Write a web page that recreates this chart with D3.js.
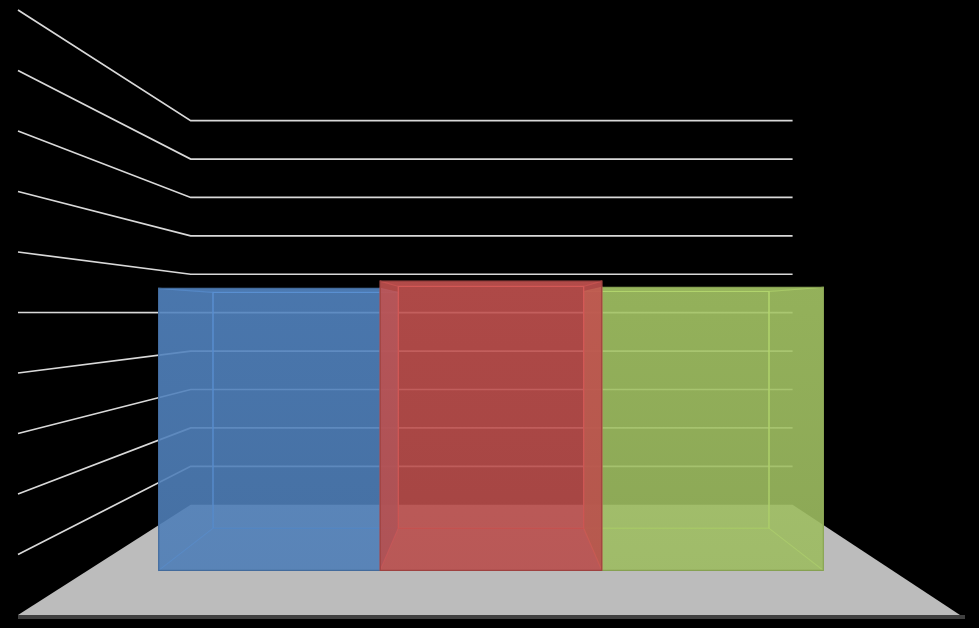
<!DOCTYPE html>
<html>
<head>
<meta charset="utf-8">
<script src="https://cdn.jsdelivr.net/npm/d3@7"></script>
<style>
  body { margin: 0; background: #000; }
  svg { display: block; }
</style>
</head>
<body>
<div id="content"></div>
<script>
// data
var categories = ["A", "B", "C"];
var values = [5.47, 5.61, 5.49];
var barColors = ["#5080bb", "#bd4f4d", "#a0c062"];
var gridValues = [1, 2, 3, 4, 5, 6, 7, 8, 9, 10];

var width = 979, height = 628;

// perspective: vanishing point and depth factor
var cx = 491, vy = 313, k = 0.575;
var barFront = 0.302, barBack = 0.70;
var floorLeft = 18, floorRight = 962;

function P(X, Y, d) {
  var s = 1 / (1 + k * d);
  return [cx + (X - cx) * s, vy + (Y - vy) * s];
}

var xScale = d3.scaleBand()
  .domain(categories)
  .range([101, 881])
  .padding(0);

var yScale = d3.scaleLinear()
  .domain([0, 10])
  .range([615, 10]);

var svg = d3.select("#content").append("svg")
  .attr("width", width)
  .attr("height", height);

svg.append("rect").attr("width", width).attr("height", height).attr("fill", "#000");

var line = d3.line();
var poly = function(pts) { return line(pts) + "Z"; };

// walls: left side lines + back wall lines
var grid = svg.append("g")
  .attr("fill", "none")
  .attr("stroke", "#d9d9d9")
  .attr("stroke-width", 1.7);

grid.selectAll("path")
  .data(gridValues)
  .enter().append("path")
  .attr("d", function(v) {
    var Y = yScale(v);
    return line([P(floorLeft, Y, 0), P(floorLeft, Y, 1), P(floorRight + 4, Y, 1)]);
  });

// floor
var Y0 = yScale(0);
svg.append("rect")
  .attr("x", floorLeft)
  .attr("y", Y0)
  .attr("width", floorRight - floorLeft + 3)
  .attr("height", 4)
  .attr("fill", "#404040");

svg.append("path")
  .attr("d", poly([P(floorLeft, Y0, 0), P(floorRight - 2, Y0, 0), P(floorRight + 4, Y0, 1), P(floorLeft, Y0, 1)]))
  .attr("fill", "#bcbcbc");

// gradients for the front faces
var defs = svg.append("defs");
barColors.forEach(function(c, i) {
  var g = defs.append("linearGradient")
    .attr("id", "grad" + i)
    .attr("x1", 0).attr("y1", 0).attr("x2", 0).attr("y2", 1);
  g.append("stop").attr("offset", "0%").attr("stop-color", d3.color(c).brighter(0.1));
  g.append("stop").attr("offset", "100%").attr("stop-color", d3.color(c).darker(0.1));
});

// bars, outer ones first, middle last
var bars = categories.map(function(c, i) {
  return { cat: c, value: values[i], color: barColors[i], i: i };
});
var mid = (xScale.range()[0] + xScale.range()[1]) / 2;
bars.sort(function(a, b) {
  var da = Math.abs(xScale(a.cat) + xScale.bandwidth() / 2 - mid);
  var db = Math.abs(xScale(b.cat) + xScale.bandwidth() / 2 - mid);
  return db - da;
});

var faceOpacity = 0.68;

bars.forEach(function(b) {
  var X0 = xScale(b.cat), X1 = X0 + xScale.bandwidth();
  var Yb = yScale(0), Yt = yScale(b.value);
  var col = d3.color(b.color);
  var edge = col.brighter(0.8);
  var g = svg.append("g");

  var back = [P(X0, Yt, barBack), P(X1, Yt, barBack), P(X1, Yb, barBack), P(X0, Yb, barBack)];
  var bottom = [P(X0, Yb, barFront), P(X1, Yb, barFront), P(X1, Yb, barBack), P(X0, Yb, barBack)];
  var left = [P(X0, Yt, barFront), P(X0, Yt, barBack), P(X0, Yb, barBack), P(X0, Yb, barFront)];
  var right = [P(X1, Yt, barFront), P(X1, Yt, barBack), P(X1, Yb, barBack), P(X1, Yb, barFront)];
  var top = [P(X0, Yt, barFront), P(X1, Yt, barFront), P(X1, Yt, barBack), P(X0, Yt, barBack)];
  var front = [P(X0, Yt, barFront), P(X1, Yt, barFront), P(X1, Yb, barFront), P(X0, Yb, barFront)];

  g.append("path").attr("d", poly(back))
    .attr("fill", col).attr("fill-opacity", faceOpacity)
    .attr("stroke", edge).attr("stroke-width", 1.2);

  g.append("path").attr("d", poly(bottom))
    .attr("fill", col.brighter(0.05)).attr("fill-opacity", faceOpacity);

  // hidden side first, visible side after
  var sides = X1 < cx ? [left, right] : [right, left];
  sides.forEach(function(s) {
    g.append("path").attr("d", poly(s))
      .attr("fill", col).attr("fill-opacity", faceOpacity)
      .attr("stroke", edge).attr("stroke-width", 1.1).attr("stroke-opacity", 0.7);
  });

  g.append("path").attr("d", poly(top))
    .attr("fill", col.brighter(0.3)).attr("fill-opacity", faceOpacity);

  g.append("path").attr("d", poly(front))
    .attr("fill", "url(#grad" + b.i + ")").attr("fill-opacity", faceOpacity)
    .attr("stroke", col.darker(0.5)).attr("stroke-width", 1.2);
});
</script>
</body>
</html>
